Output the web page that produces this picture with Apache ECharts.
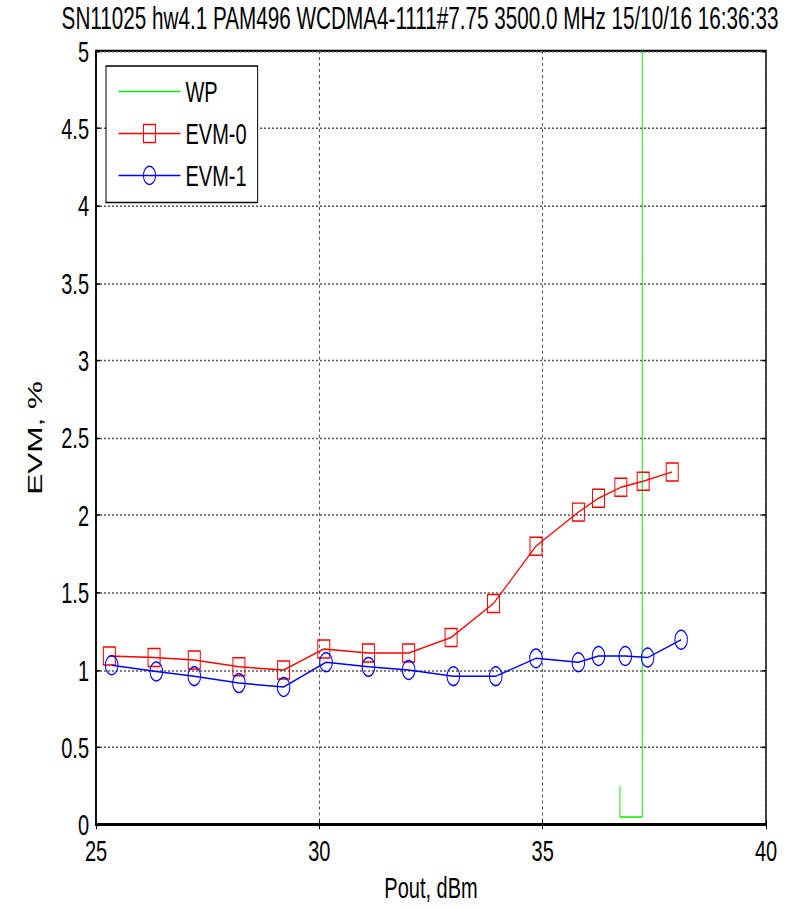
<!DOCTYPE html>
<html>
<head>
<meta charset="utf-8">
<script src="https://cdn.jsdelivr.net/npm/echarts@6/dist/echarts.min.js"></script>
<style>
  html, body { margin: 0; padding: 0; background: #fff; }
  #wrap { width: 808px; height: 910px; }
  /* the reference is a MATLAB figure stretched vertically (~1.5x), so draw at 607px and stretch */
  #chart { width: 808px; height: 607px; transform: scaleY(1.4992); transform-origin: 0 0; }
</style>
</head>
<body>
<div id="wrap"><div id="chart"></div></div>
<script>
// EVM-0 (red squares)
const evm0X = [25.3, 26.3, 27.2, 28.2, 29.2, 30.1, 31.1, 32.0, 32.95, 33.9, 34.85, 35.8, 36.25, 36.75, 37.25, 37.9];
const evm0Y = [1.09, 1.08, 1.065, 1.02, 1.0, 1.135, 1.11, 1.11, 1.21, 1.43, 1.80, 2.02, 2.11, 2.18, 2.22, 2.28];
// EVM-1 (blue circles)
const evm1X = [25.35, 26.35, 27.2, 28.2, 29.2, 30.15, 31.1, 32.0, 33.0, 33.95, 34.85, 35.8, 36.25, 36.85, 37.35, 38.1];
const evm1Y = [1.03, 0.99, 0.96, 0.915, 0.89, 1.05, 1.02, 1.0, 0.96, 0.96, 1.075, 1.05, 1.09, 1.09, 1.08, 1.195];
// WP marker line
const wpX = [36.73, 36.73, 37.23, 37.23];
const wpY = [0.25, 0.05, 0.05, 5];

const titleText = 'SN11025 hw4.1 PAM496 WCDMA4-1111#7.75 3500.0 MHz 15/10/16 16:36:33';
const font = '"Liberation Sans", Arial, sans-serif';

const zip = (xs, ys) => xs.map((x, i) => [x, ys[i]]);

const chart = echarts.init(document.getElementById('chart'), null, { renderer: 'svg' });

const gridLine = {
  show: true,
  lineStyle: { color: '#555', type: [2, 2], width: 1 }
};
const tick = { show: true, inside: true, length: 3, lineStyle: { color: '#000', width: 1 } };

const option = {
  backgroundColor: '#fff',
  animation: false,
  title: {
    text: titleText,
    left: 420,
    textAlign: 'center',
    top: 3,
    padding: 0,
    textStyle: { fontFamily: font, fontSize: 20.7, lineHeight: 18, fontWeight: 'normal', color: '#000' }
  },
  grid: {
    left: 96, right: 42, top: 34, bottom: 48,
    show: true, borderColor: '#000', borderWidth: 1.5, backgroundColor: '#fff'
  },
  legend: {
    orient: 'vertical',
    left: 106, top: 44,
    padding: [7, 11, 8, 12],
    backgroundColor: '#fff',
    borderColor: '#000',
    borderWidth: 1,
    itemWidth: 62,
    itemHeight: 15,
    itemGap: 8,
    lineStyle: { width: 1 },
    itemStyle: { borderWidth: 1 },
    textStyle: { fontFamily: font, fontSize: 20, color: '#000' },
    data: ['WP', 'EVM-0', 'EVM-1']
  },
  xAxis: [
    {
      type: 'value',
      min: 25, max: 40, interval: 5,
      name: 'Pout, dBm',
      nameLocation: 'middle',
      nameGap: 24,
      nameTextStyle: { fontFamily: font, fontSize: 20, color: '#000' },
      axisLine: { show: true, lineStyle: { color: '#000', width: 2 } },
      axisTick: tick,
      axisLabel: { fontFamily: font, fontSize: 20, color: '#000', margin: 7 },
      splitLine: gridLine
    },
    {
      type: 'value', position: 'top',
      min: 25, max: 40, interval: 5,
      axisLine: { show: false },
      axisTick: tick,
      axisLabel: { show: false },
      splitLine: { show: false }
    }
  ],
  yAxis: [
    {
      type: 'value',
      min: 0, max: 5, interval: 0.5,
      name: 'EVM, %',
      nameLocation: 'middle',
      nameGap: 51,
      nameTextStyle: { fontFamily: font, fontSize: 21, color: '#000' },
      axisLine: { show: true, lineStyle: { color: '#000', width: 1.5 } },
      axisTick: { show: true, inside: true, length: 4, lineStyle: { color: '#000', width: 1 } },
      axisLabel: { fontFamily: font, fontSize: 20, lineHeight: 18, color: '#000', margin: 7 },
      splitLine: gridLine
    },
    {
      type: 'value', position: 'right',
      min: 0, max: 5, interval: 0.5,
      axisLine: { show: false },
      axisTick: { show: true, inside: true, length: 4, lineStyle: { color: '#000', width: 1 } },
      axisLabel: { show: false },
      splitLine: { show: false }
    }
  ],
  series: [
    {
      name: 'WP',
      type: 'line',
      data: zip(wpX, wpY),
      symbol: 'circle',
      showSymbol: false,
      lineStyle: { color: '#00ee00', width: 1 },
      itemStyle: { color: 'rgba(0,0,0,0)' },
      z: 3
    },
    {
      name: 'EVM-0',
      type: 'line',
      data: zip(evm0X, evm0Y),
      symbol: 'rect',
      symbolSize: 12,
      lineStyle: { color: '#ff0000', width: 1 },
      itemStyle: { color: 'rgba(0,0,0,0)', borderColor: '#ff0000', borderWidth: 1 },
      z: 4
    },
    {
      name: 'EVM-1',
      type: 'line',
      data: zip(evm1X, evm1Y),
      symbol: 'circle',
      symbolSize: 12.5,
      lineStyle: { color: '#0000ff', width: 1 },
      itemStyle: { color: 'rgba(0,0,0,0)', borderColor: '#0000ff', borderWidth: 1 },
      z: 5
    }
  ]
};

chart.setOption(option);
</script>
</body>
</html>
